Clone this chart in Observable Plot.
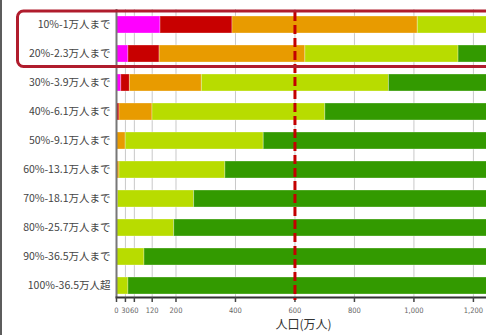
<!DOCTYPE html>
<html><head><meta charset="utf-8">
<script src="https://cdn.jsdelivr.net/npm/d3@7"></script>
<script src="https://cdn.jsdelivr.net/npm/@observablehq/plot@0.6"></script>
<style>
body{margin:0;background:#fff}
#c{position:relative;width:486px;height:335px;overflow:hidden}
#edge{position:absolute;left:0;top:0;width:2px;height:335px;background:#5c5c5c}
g[aria-label="x-axis tick label"]{font-family:"Liberation Sans Narrow","DejaVu Sans Condensed",sans-serif}
</style></head>
<body><div id="c"><div id="edge"></div></div>
<script>
const categories = ["10%-1万人まで","20%-2.3万人まで","30%-3.9万人まで","40%-6.1万人まで","50%-9.1万人まで","60%-13.1万人まで","70%-18.1万人まで","80%-25.7万人まで","90%-36.5万人まで","100%-36.5万人超"];
const seriesNames = ["区分1","区分2","区分3","区分4","区分5"];
const colors = ["#ff00ff","#c80000","#e89b00","#b8dc00","#339a00"];
const magenta = [148,40,16,1,0,0,0,0,0,0];
const red     = [242,105,29,9,0,0,0,0,0,0];
const orange  = [623,490,242,111,31,10,5,2,0,0];
const yellowGreen = [287,515,629,581,464,356,256,192,94,40];
const green   = [0,150,384,598,805,934,1039,1106,1206,1260];
const xTicks = [0,30,60,120,200,400,600,800,1000,1200];
const xMax = 1244;
const refLine = 600;
const xLabel = "人口(万人)";

const seriesValues = [magenta, red, orange, yellowGreen, green];
const data = [];
seriesNames.forEach((s, si) => categories.forEach((c, ci) => data.push({category: c, series: s, value: seriesValues[si][ci]})));

const plot = Plot.plot({
  width: 486, height: 335,
  marginLeft: 116, marginRight: 0, marginTop: 9, marginBottom: 38,
  style: {fontFamily: "'Noto Sans CJK JP', sans-serif", background: "transparent", overflow: "visible"},
  x: {domain: [0, xMax]},
  y: {domain: categories, paddingInner: 0.415, paddingOuter: 0.156, align: 0.66},
  color: {domain: seriesNames, range: colors},
  marks: [
    Plot.gridX(xTicks, {stroke: "#c8c8c8", strokeOpacity: 1}),
    Plot.barX(data, {y: "category", x: "value", fill: "series", stroke: "white", strokeOpacity: 0.3, clip: true}),
    Plot.ruleX([0], {stroke: "#777", strokeWidth: 2}),
    Plot.frame({anchor: "bottom", stroke: "#333", strokeWidth: 2}),
    Plot.axisX(xTicks, {tickSize: 5, tickPadding: 5, fontSize: 7.5, fill: "#666", stroke: "#444", strokeWidth: 1.5, tickFormat: d3.format(","), label: null}),
    Plot.axisY({tickSize: 0, tickPadding: 6, fontSize: 10.5, fill: "#444", label: null}),
    Plot.ruleX([refLine], {stroke: "#c40000", strokeWidth: 3, strokeDasharray: "9,4", insetTop: 3, insetBottom: -3}),
    Plot.text([xLabel], {frameAnchor: "bottom", dy: 31, dx: 2, fontSize: 12, fill: "#333"})
  ]
});

const y = plot.scale("y");
const bw = y.bandwidth, step = y.step, gap = (step - bw) / 2;
const top0 = y.apply(categories[0]) - gap + 1;
const bot1 = y.apply(categories[1]) + bw + gap - 1.5;
d3.select(plot).append("rect")
  .attr("x", 17.5).attr("y", top0).attr("width", 490).attr("height", bot1 - top0)
  .attr("rx", 6).attr("fill", "none").attr("stroke", "#b01c2d").attr("stroke-width", 3);

document.getElementById("c").appendChild(plot);
</script>
</body></html>
